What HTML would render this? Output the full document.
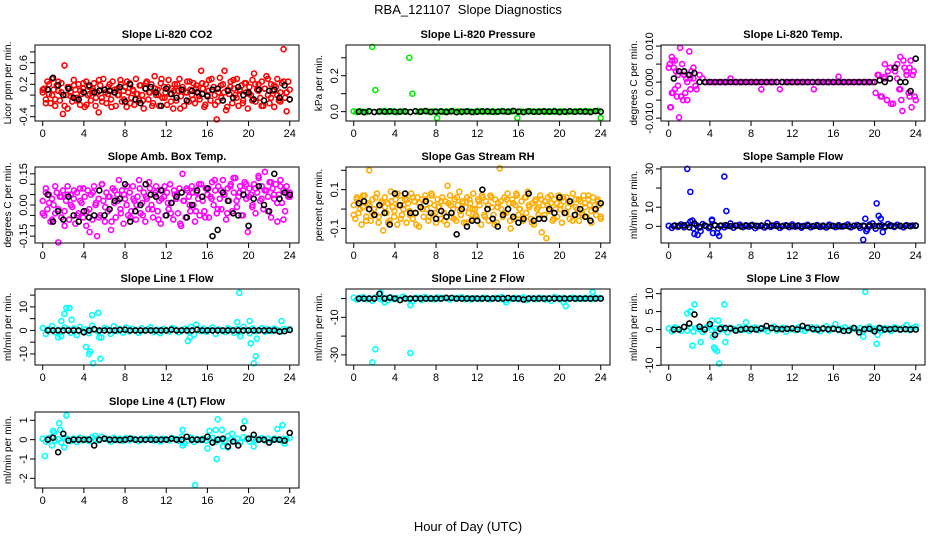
<!DOCTYPE html>
<html><head><meta charset="utf-8"><title>RBA_121107 Slope Diagnostics</title>
<style>
html,body{margin:0;padding:0;background:#fff;}
svg{display:block;font-family:"Liberation Sans",Arial,sans-serif;}
</style></head>
<body>
<svg id="chart" width="936" height="540" viewBox="0 0 936 540" xmlns="http://www.w3.org/2000/svg">
<rect x="0" y="0" width="936" height="540" fill="#fff"/>
<text x="468" y="14" text-anchor="middle" font-size="13">RBA_121107&#160; Slope Diagnostics</text>
<text x="468" y="531" text-anchor="middle" font-size="13">Hour of Day (UTC)</text>
</svg>
<script>
// ---------- shared categories ----------
const xTicks = [0,4,8,12,16,20,24];
const panelTitles = ["Slope Li-820 CO2","Slope Li-820 Pressure","Slope Li-820 Temp.","Slope Amb. Box Temp.","Slope Gas Stream RH","Slope Sample Flow","Slope Line 1 Flow","Slope Line 2 Flow","Slope Line 3 Flow","Slope Line 4 (LT) Flow"];
const yTitles = ["Licor ppm per min.","kPa per min.","degrees C per min.","degrees C per min.","percent per min.","ml/min per min.","ml/min per min.","ml/min per min.","ml/min per min.","ml/min per min."];

// ---------- CO2 ----------
const co2Main = [0.05,0.12,-0.08,0.25,0.02,-0.15,0.3,0.1,-0.2,0.18,0.08,-0.1,0.22,-0.35,0.55,0.0,-0.25,0.15,0.05,-0.12,0.28,0.1,-0.05,0.2,-0.18,0.02,0.12,-0.22,0.25,0.0,0.15,-0.1,0.08,0.22,-0.2,0.05,-0.32,0.18,-0.05,0.3,0.1,-0.15,0.02,0.2,-0.08,0.25,0.05,-0.2,0.12,0.0,0.28,-0.12,0.08,0.15,-0.22,0.05,0.22,-0.05,0.1,-0.18,0.3,0.02,-0.1,0.18,0.0,-0.25,0.12,0.25,-0.08,0.05,0.2,-0.15,0.35,0.0,0.1,-0.2,0.22,-0.05,0.15,0.05,-0.18,0.28,0.02,0.12,-0.25,0.2,-0.1,0.08,0.3,-0.02,0.15,-0.2,0.05,0.25,-0.12,0.1,0.0,0.22,-0.15,0.18,0.05,-0.08,0.45,0.12,-0.22,0.2,0.0,0.28,-0.1,0.1,0.15,-0.18,-0.45,0.05,0.32,-0.05,0.2,0.45,-0.28,0.1,0.02,0.25,-0.15,0.12,0.0,0.3,-0.2,0.08,0.18,-0.1,0.22,0.05,-0.25,0.15,0.0,0.28,0.4,-0.12,0.1,0.2,-0.05,0.25,-0.2,0.12,0.35,0.0,-0.15,0.2,0.08,-0.22,0.15,0.3,-0.1,0.05,0.22,0.85,-0.05,-0.3,0.25,0.1];
const co2Second = [0.1,-0.15,0.2,0.0,-0.08,0.25,0.05,-0.2,0.15,-0.02,0.18,-0.1,0.08,0.22,-0.18,0.02,0.12,-0.05,0.28,-0.12,0.05,0.15,-0.22,0.1,0.0,0.2,-0.08,0.25,-0.15,0.08,0.02,0.18,-0.1,0.22,0.05,-0.2,0.12,0.0,0.3,-0.05,0.15,-0.12,0.08,0.2,-0.25,0.1,0.05,0.25,-0.08,0.12,-0.02,0.22,-0.18,0.08,0.3,0.0,-0.12,0.18,0.05,-0.22,0.15,0.28,-0.05,0.1,-0.15,0.22,0.02,-0.1,0.2,0.08,-0.2,0.12,0.3,-0.05,0.18,0.0,-0.12,0.25,0.05,-0.08];
const co2Black = [0.1,0.32,0.18,0.0,0.12,-0.05,-0.08,0.05,0.18,0.05,0.08,0.1,0.08,0.05,0.15,-0.12,0.2,-0.08,-0.15,0.12,0.15,0.05,-0.2,0.12,0.02,-0.05,0.1,-0.1,0.08,0.05,0.02,-0.02,0.1,0.12,-0.1,0.08,-0.05,0.15,0.0,0.05,-0.08,0.1,-0.1,0.08,0.1,-0.05,0.18,-0.08];

// ---------- Pressure ----------
const presMain = [0.002,-0.003,0.004,0.0,-0.002,0.003,0.36,0.12,-0.001,0.002,0.004,-0.002,0.001,0.003,-0.003,0.0,0.002,-0.001,0.30,0.10,0.003,-0.002,0.001,0.004,0.0,-0.003,0.002,-0.035,0.001,-0.002,0.003,0.0,0.004,-0.001,0.002,-0.003,0.001,0.003,0.0,-0.002,0.004,0.001,-0.001,0.002,0.0,0.003,-0.002,0.001,0.004,-0.001,0.002,0.0,0.003,-0.035,0.001,-0.002,0.002,0.004,0.0,-0.001,0.003,0.001,-0.002,0.002,0.0,0.004,-0.001,0.003,0.001,-0.002,0.002,0.0,0.003,0.001,-0.001,0.004,0.002,0.0,0.003,0.005,-0.035];
const presBlack = [0.0,-0.003,0.002,-0.002,0.001,0.0,0.002,-0.001,0.0,0.001,-0.002,0.002,0.0,0.003,-0.001,0.0,0.001,-0.002,0.002,-0.003,0.0,0.001,-0.002,0.0,0.002,0.001,-0.001,0.0,0.002,-0.001,0.004,0.0,-0.002,0.001,0.0,-0.001,0.002,0.0,0.001,-0.002,0.0,0.002,-0.001,0.001,0.0,-0.002,0.003,0.0];

// ---------- Li-820 Temp ----------
const tempMain = [0.004,-0.003,0.006,0.002,-0.004,0.003,-0.005,0.001,0.004,-0.002,0.002,0.001,0.0,0,0,0,0,0,0,0,0.001,0,0,0,0,0,0,0,0,0,-0.002,0,0,0,0,0,-0.002,0,0,0,0,0,0,0,0,0,0,-0.002,0,0,0,0,0,0,0,0.0015,0,0,0,0,0,0,0,0,0,0,0,-0.003,0.002,-0.004,0.005,0.003,-0.006,0.004,0.001,-0.002,0.006,0.003,-0.004,0.002,-0.005];
const tempExtraX = [0.1,0.2,0.3,0.4,0.5,0.6,0.7,0.9,1.0,1.1,1.2,1.3,1.4,1.5,1.6,1.7,1.8,2.0,2.1,2.2,2.4,2.6,0.15,0.35,0.8,1.9,20.3,20.6,20.9,21.2,21.5,21.8,22.0,22.2,22.4,22.5,22.7,22.9,23.1,23.3,23.5,23.6,23.8,23.9,21.0,22.6,23.4];
const tempExtraY = [0.005,-0.007,0.007,-0.003,0.004,-0.002,0.003,-0.001,-0.0098,0.0095,-0.004,0.005,-0.005,0.002,-0.003,0.001,0.0,0.0085,-0.002,0.003,0.001,-0.001,-0.007,0.006,-0.004,0.002,0.002,-0.004,0.001,-0.005,0.004,-0.006,0.003,0.005,-0.002,0.007,-0.008,0.004,0.002,-0.003,0.006,-0.007,0.003,-0.004,0.0015,-0.005,0.004];
const tempBlack = [0.001,0.003,0.003,0.002,0.0025,0,0,0,0,0,0,0,0,0,0,0,0,0,0,0,0,0,0,0,0,0,0,0,0,0,0,0,0,0,0,0,0,0,0,0,0.0005,0.0,0.001,0.004,0.0,0.0,-0.0025,0.0065];

// ---------- Amb Box Temp ----------
const ambMain = [0.02,-0.05,0.08,-0.02,0.05,-0.08,0.03,0.0,-0.04,0.06,-0.18,0.04,-0.06,0.07,-0.03,0.02,0.09,-0.07,0.05,-0.01,0.03,-0.09,0.06,-0.04,0.08,0.01,-0.06,0.04,-0.1,0.07,-0.02,0.05,-0.07,0.09,0.0,-0.15,0.03,-0.05,0.1,0.02,-0.08,0.06,-0.03,0.04,-0.12,0.08,0.01,-0.06,0.05,0.12,-0.02,0.07,-0.09,0.03,0.0,-0.05,0.06,-0.03,0.09,0.02,-0.07,0.04,0.12,-0.04,0.01,0.06,-0.08,0.03,-0.02,0.08,0.0,-0.06,0.05,0.09,-0.03,0.02,-0.09,0.07,0.04,-0.05,0.06,-0.02,0.1,0.01,-0.07,0.05,0.03,-0.04,0.08,-0.1,0.15,0.02,-0.06,0.07,0.04,-0.03,0.09,0.0,-0.08,0.06,0.03,-0.05,0.1,0.02,-0.03,0.08,0.05,-0.06,0.04,0.11,0.0,0.07,-0.04,0.09,0.03,-0.02,0.12,0.05,-0.07,0.08,0.02,0.1,-0.03,0.06,0.13,-0.01,0.04,0.09,-0.05,0.07,0.11,0.03,-0.13,0.08,0.05,0.0,0.1,-0.04,0.06,0.13,0.02,0.09,-0.02,0.16,0.07,0.04,0.11,-0.06,0.08,0.03,0.1,-0.08,0.05,0.12,0.01,0.07,-0.03,0.09,0.04,0.06];
const ambSecond = [-0.04,0.06,0.01,-0.07,0.09,-0.02,0.04,-0.1,0.05,0.0,0.07,-0.05,0.02,0.08,-0.03,-0.13,0.06,0.01,-0.06,0.1,-0.01,0.04,-0.08,0.07,0.02,-0.04,0.05,0.09,-0.06,0.03,0.0,0.08,-0.05,0.04,0.11,-0.02,0.06,-0.07,0.03,0.09,0.01,-0.04,0.07,0.05,-0.09,0.02,0.08,0.0,0.06,-0.03,0.1,0.04,-0.06,0.08,0.03,0.12,-0.02,0.07,0.05,-0.04,0.09,0.13,0.02,0.06,-0.05,0.1,0.04,-0.01,0.08,0.14,0.03,0.07,-0.03,0.11,0.05,0.01,0.09,-0.07,0.06,0.04];
const ambBlack = [0.05,-0.08,-0.03,-0.07,0.04,-0.05,-0.08,-0.03,-0.06,-0.05,0.07,-0.05,-0.02,0.02,0.03,0.1,-0.08,-0.03,0.0,0.1,0.05,0.04,0.07,-0.05,0.01,0.04,0.06,-0.06,0.0,0.07,0.04,0.08,-0.15,-0.12,0.06,0.02,-0.04,-0.05,0.05,-0.1,0.03,0.09,0.0,-0.03,0.15,0.03,0.06,0.05];

// ---------- Gas Stream RH ----------
const rhMain = [0.02,-0.05,0.06,-0.02,0.04,-0.08,0.01,0.07,-0.04,0.03,0.2,-0.06,0.05,0.0,-0.03,0.08,-0.07,0.02,0.04,-0.11,0.06,-0.02,0.03,-0.06,0.09,0.01,-0.04,0.05,-0.08,0.02,0.07,-0.03,0.0,0.05,-0.07,0.03,-0.01,0.08,-0.05,0.04,-0.02,0.06,-0.09,0.01,0.05,-0.04,0.07,0.0,-0.06,0.03,0.08,-0.03,0.02,-0.07,0.05,0.01,-0.05,0.06,-0.02,0.04,-0.08,0.03,0.07,-0.04,0.0,0.05,-0.06,0.02,0.09,-0.03,0.04,-0.07,0.01,0.06,-0.02,0.03,-0.05,0.08,0.0,-0.04,0.05,0.02,-0.08,0.06,-0.03,0.04,0.0,-0.06,0.07,0.01,-0.03,0.05,-0.07,0.03,0.21,0.0,-0.04,0.06,-0.02,0.08,0.03,-0.1,0.05,-0.05,0.02,0.07,-0.03,0.0,0.04,-0.06,0.06,-0.02,0.09,0.01,-0.05,0.03,-0.08,0.05,0.0,-0.03,0.07,-0.12,0.02,0.04,-0.15,0.06,-0.01,0.03,-0.06,0.05,0.0,-0.04,0.07,0.02,-0.07,0.04,-0.02,0.06,0.01,-0.05,0.03,0.08,-0.03,0.05,0.0,-0.06,0.04,-0.02,0.07,0.01,-0.04,0.05,0.02,-0.07,0.06,0.0,-0.03,0.04,0.02,-0.05];
const rhSecond = [-0.03,0.05,0.0,0.07,-0.06,0.02,-0.02,0.06,-0.04,0.03,0.01,-0.07,0.04,-0.01,0.08,-0.05,0.02,0.05,-0.03,0.06,-0.08,0.03,0.0,0.05,-0.04,0.07,-0.02,0.01,0.04,-0.06,0.12,0.02,-0.05,0.06,-0.01,0.03,-0.07,0.05,0.0,-0.03,0.04,0.07,-0.04,0.02,0.06,-0.08,0.01,0.04,-0.02,0.05,-0.06,0.03,0.08,0.0,-0.04,0.06,0.02,-0.07,0.04,0.01,0.05,-0.03,0.02,0.07,-0.05,0.03,0.0,0.06,-0.02,0.04,-0.06,0.01,0.05,-0.03,0.03,0.07,-0.01,0.02,0.05,-0.04];
const rhBlack = [0.03,0.04,0.0,-0.03,0.02,-0.02,-0.08,0.08,0.02,0.08,-0.02,-0.02,0.01,0.04,-0.02,-0.05,-0.01,-0.04,-0.02,-0.13,0.0,-0.09,-0.06,-0.06,0.1,0.0,-0.05,-0.09,-0.03,0.0,-0.04,-0.07,-0.05,0.08,-0.06,-0.05,-0.05,0.0,-0.02,0.06,-0.02,0.04,-0.03,0.0,-0.04,-0.06,0.0,0.03];

// ---------- Sample Flow ----------
const sampMain = [0.3,-0.8,0.5,-0.3,1.0,-0.5,0.8,2.5,-1.0,0.5,-0.6,1.2,0.2,-0.9,3.5,0.6,-1.0,0.4,-0.5,0.2,1.5,-0.7,0.3,0.9,-0.4,0.6,-0.2,0.8,-0.9,0.1,0.5,-0.6,1.8,-0.3,0.4,1.2,-0.8,0.2,0.6,-0.4,1.0,-0.2,0.5,-0.7,0.3,0.8,-0.5,0.1,0.7,-0.3,0.4,-0.6,0.9,0.2,-0.4,0.6,-0.1,0.3,1.0,-0.5,0.2,0.7,-0.8,0.4,-2.5,0.9,1.5,-1.2,0.3,0.6,-0.4,1.2,0.5,-0.3,0.8,0.1,-0.5,0.6,0.2,0.4,0.3];
const sampExtraX = [1.8,2.1,5.4,5.6,2.5,4.9,4.3,4.2,18.9,19.1,20.2,20.4,20.6,20.8,2.3,3.1,2.8,4.7,19.3];
const sampExtraY = [30,18,26,8,-4,-5,-3.5,3,-7,4,12,5.5,4,-3,3,-2.5,-4.5,-3.5,-1.5];
const sampBlack = [0.2,0.3,0.5,-0.5,1.5,-0.3,0.4,-0.2,0.5,0.3,0.6,0.1,0.4,0.0,0.2,0.5,0.3,0.2,0.1,0.4,0.2,0.0,0.3,0.1,0.2,0.0,0.3,0.1,0.2,0.0,0.1,0.2,0.0,0.1,0.0,0.3,0.2,0.1,0.0,0.2,0.1,0.0,0.2,0.1,0.3,0.2,0.1,0.4];

// ---------- Line 1 ----------
const l1Main = [1.0,-1.5,0.5,1.8,-0.8,0.3,-2.5,1.2,0.6,-1.0,0.8,-2.0,1.5,-0.5,0.4,-1.2,2.0,0.2,-0.6,-3.0,1.0,0.5,-1.5,1.8,-0.3,0.6,-0.9,1.2,-0.4,0.7,0.2,-1.0,0.9,-0.2,0.5,1.3,-0.7,0.3,-1.2,0.6,0.1,-0.5,1.0,0.4,-0.8,0.2,0.7,-0.4,1.5,-1.8,0.5,-0.2,0.8,-0.6,0.3,1.2,-1.5,0.4,0.0,-0.7,0.9,0.2,-1.0,0.6,-2.5,1.5,0.3,-1.2,0.8,-0.4,0.2,1.0,-0.6,0.5,-0.3,0.8,0.1,-0.5,0.6,0.3,0.5];
const l1ExtraX = [2.3,2.6,2.1,1.8,2.8,4.2,4.5,4.6,4.9,4.8,5.4,5.6,19.1,18.9,20.1,20.2,20.5,20.7,20.8,23.2,14.1,14.3,14.9,1.5,5.5];
const l1ExtraY = [9.5,9.5,7,4,4.5,-7,-10,-9,-14,6.5,7.5,-12,16,3.5,4,-5.5,-14,-11,-3.5,4,-4.5,-3,2.5,-3,-3];
const l1Black = [0,0,0,0,0,0,0,-0.8,0,0.5,0,0,0,0,0.2,0.3,0,0,0,0,0,0,0,0,0.3,0,0,0,0,0.3,0,0,0,0,0,0,0,0,0,0,0,0,0,0,0,-0.5,-0.3,0.2];

// ---------- Line 2 ----------
const l2Main = [0.5,-0.6,0.3,0.8,-0.4,0.2,-1.2,0.6,0.3,-0.5,0.4,-1.0,0.7,-0.3,0.2,-0.6,1.0,0.1,-0.3,-1.5,0.5,0.3,-0.8,0.9,-0.2,0.3,-0.5,0.6,-0.2,0.4,0.1,-0.5,0.5,-0.1,0.3,0.7,-0.4,0.2,-0.6,0.3,0.1,-0.3,0.5,0.2,-0.4,0.1,0.4,-0.2,0.8,-0.9,0.3,-0.1,0.4,-0.3,0.2,0.6,-0.8,0.2,0.0,-0.4,0.5,0.1,-0.5,0.3,-1.2,0.8,0.2,-0.6,0.4,-0.2,0.1,0.5,-0.3,0.3,-0.2,0.4,0.1,-0.3,0.3,0.2,0.3];
const l2ExtraX = [2.1,1.8,5.5,2.6,3.0,5.5,14.8,20.6,20.4,23.2];
const l2ExtraY = [-27,-34,-29,3,-2,-3.5,-2,-4,-2,3.5];
const l2Black = [0,0,0,0,2.5,0,0.5,0,-0.8,0,0,0,0,0,0,0,0,0.4,0.3,0,0,0,0,0,0,0,0,0,0,0.3,0,0,-0.5,0,0,0,0,0,0,0,0,0,0,0,0,0,0,0];

// ---------- Line 3 ----------
const l3Main = [0.3,-0.5,0.6,0.2,-0.4,0.8,-0.3,0.5,-0.6,0.4,0.1,-0.7,0.5,0.9,-0.2,0.3,-0.5,0.6,0.0,-0.8,0.4,0.2,-0.3,0.7,-0.1,0.5,-0.4,0.3,0.6,-0.2,0.4,0.1,-0.5,0.3,0.8,-0.3,0.2,0.5,-0.6,0.1,0.4,-0.2,0.6,0.0,-0.4,0.3,0.7,-0.1,0.5,-0.5,0.2,0.9,-0.3,0.4,1.5,-0.2,0.3,0.6,-0.4,0.2,0.5,-0.1,0.4,-0.6,0.3,0.8,-0.2,0.1,0.5,-0.3,0.4,0.2,-0.4,0.6,0.3,-0.1,0.5,1.2,-0.2,0.4,0.8];
const l3ExtraX = [2.5,5.4,1.8,2.1,2.3,3.1,4.2,4.3,4.4,4.5,4.7,4.9,4.8,5.5,19.1,18.9,20.2,20.3,7.5];
const l3ExtraY = [7,7,4.5,5,-4.5,-3.5,2.5,-2,-5,-5.5,-6,-9.5,2.5,-3.5,10.5,-2,-4,-1.5,2];
const l3Black = [0.0,0.0,0.7,1.7,4.2,0.8,0.0,1.5,-1.5,0.2,0.4,0.3,-0.3,0.0,0.2,0.1,0.0,0.3,1.0,0.4,0.2,0.1,0.2,0.3,0.0,1.0,0.5,0.2,0.0,0.3,0.1,0.2,0.0,-0.4,-0.3,0.4,-0.8,0.1,0.2,-0.5,0.4,0.0,0.1,0.2,0.0,0.1,0.0,0.0];

// ---------- Line 4 ----------
const l4Main = [0.05,-0.1,0.08,0.12,-0.05,0.03,-0.15,0.1,0.05,-0.08,0.06,-0.12,0.1,-0.04,0.03,-0.08,0.12,0.02,-0.05,0.15,0.05,0.04,-0.1,0.1,-0.02,0.05,-0.06,0.08,-0.03,0.05,0.02,-0.08,0.06,-0.02,0.04,0.1,-0.05,0.03,-0.1,0.05,0.01,-0.04,0.08,0.03,-0.06,0.15,-0.2,-0.03,0.1,-0.12,0.04,-0.02,0.06,-0.05,0.03,0.1,-0.12,0.04,0.0,-0.06,0.2,0.02,-0.08,0.05,-0.15,0.12,0.03,-0.1,0.06,-0.03,0.02,0.08,-0.05,0.04,-0.02,0.06,0.01,-0.04,0.05,0.03,0.1];
const l4ExtraX = [0.2,1.0,1.1,0.9,1.6,1.7,2.3,2.1,5.1,13.6,13.6,14.8,16.0,16.2,16.8,17.0,16.9,17.4,17.5,19.6,18.4,18.0,20.5,22.8,23.3,23.5];
const l4ExtraY = [-0.85,0.45,0.35,-0.3,0.85,0.5,1.25,-0.4,0.2,0.5,-0.3,-2.35,-0.45,0.45,0.5,1.05,-1.0,0.5,-0.35,0.95,0.3,-0.4,-0.35,0.55,0.75,-0.2];
const l4Black = [0.0,0.1,-0.65,0.3,-0.05,0.0,0.0,0.0,0.0,-0.3,0.0,0.05,0.0,0.0,-0.02,0.0,0.05,0.0,0.0,0.0,0.0,0.0,0.0,0.0,0.05,0.0,0.0,0.15,0.0,0.0,0.0,0.15,-0.15,0.0,0.05,-0.35,-0.1,-0.3,0.6,0.05,0.25,0.0,0.0,-0.15,0.0,0.0,-0.05,0.35];

// ---------- layout (not data) ----------
const COLS=[35,346,661], ROWS=[45,167,289,412], PW=264, PH=76;
const XDOM=[-0.75,24.9];
const panels = [
 {col:0,row:0,ylim:[-0.48,0.928],ticks:[-0.4,-0.2,0,0.2,0.4,0.6,0.8],labs:["-0.4","","","0.2","","0.6",""],color:"#ff0000",main:[co2Main,co2Second],ex:null,black:co2Black},
 {col:1,row:0,ylim:[-0.052,0.371],ticks:[0,0.1,0.2,0.3],labs:["0.0","","0.2",""],color:"#00ee00",main:[presMain],ex:null,black:presBlack},
 {col:2,row:0,ylim:[-0.0108,0.0103],ticks:[-0.01,-0.005,0,0.005,0.01],labs:["-0.010","","0.000","","0.010"],color:"#ff00ff",main:[tempMain],ex:[tempExtraX,tempExtraY],black:tempBlack},
 {col:0,row:1,ylim:[-0.183,0.183],ticks:[-0.15,-0.1,-0.05,0,0.05,0.1,0.15],labs:["-0.15","","","0.00","","","0.15"],color:"#ff00ff",main:[ambMain,ambSecond],ex:null,black:ambBlack},
 {col:1,row:1,ylim:[-0.175,0.217],ticks:[-0.1,0,0.1,0.2],labs:["-0.1","","0.1",""],color:"#ffab00",main:[rhMain,rhSecond],ex:null,black:rhBlack},
 {col:2,row:1,ylim:[-8.7,31],ticks:[0,10,20,30],labs:["0","10","","30"],color:"#0000ff",main:[sampMain],ex:[sampExtraX,sampExtraY],black:sampBlack},
 {col:0,row:2,ylim:[-14.7,17.6],ticks:[-10,-5,0,5,10,15],labs:["-10","","0","","10",""],color:"#00ffff",main:[l1Main],ex:[l1ExtraX,l1ExtraY],black:l1Black},
 {col:1,row:2,ylim:[-35.4,5.1],ticks:[-30,-20,-10,0],labs:["-30","","-10",""],color:"#00ffff",main:[l2Main],ex:[l2ExtraX,l2ExtraY],black:l2Black},
 {col:2,row:2,ylim:[-9.9,11.3],ticks:[-10,-5,0,5,10],labs:["-10","","0","5","10"],color:"#00ffff",main:[l3Main],ex:[l3ExtraX,l3ExtraY],black:l3Black},
 {col:0,row:3,ylim:[-2.5,1.43],ticks:[-2,-1,0,1],labs:["-2","-1","0","1"],color:"#00ffff",main:[l4Main],ex:[l4ExtraX,l4ExtraY],black:l4Black}
];

const NS="http://www.w3.org/2000/svg";
const svg=document.getElementById('chart');
function mk(tag,attrs,parent){const e=document.createElementNS(NS,tag);for(const k in attrs)e.setAttribute(k,attrs[k]);parent.appendChild(e);return e;}

panels.forEach((p,pi)=>{
  const L=COLS[p.col], T=ROWS[p.row];
  const xs=v=>L+(v-XDOM[0])/(XDOM[1]-XDOM[0])*PW;
  const ys=v=>T+PH-(v-p.ylim[0])/(p.ylim[1]-p.ylim[0])*PH;
  const g=mk('g',{},svg);
  
  
  const clip=mk('clipPath',{id:'c'+pi},g);
  mk('rect',{x:L-3,y:T-3,width:PW+6,height:PH+6},clip);
  const tt=mk('text',{x:L+PW/2,y:T-7,'text-anchor':'middle','font-size':'11','font-weight':'bold'},g);
  tt.textContent=panelTitles[pi];
  
  
  const yt=mk('text',{x:0,y:0,'text-anchor':'middle','font-size':'10',transform:`translate(${L-24},${T+PH/2}) rotate(-90)`},g);
  yt.textContent=yTitles[pi];
  
  
  const pts=mk('g',{'clip-path':`url(#c${pi})`,fill:'none','stroke-width':'1.6'},g);
  
  
  p.main.forEach(arr=>{
    arr.forEach((v,i)=>{
      const h=i*24/(arr.length-1);
      const c=mk('circle',{cx:xs(h),cy:ys(v),r:2.5,stroke:p.color},pts);
      
      
    });
  });
  if(p.ex){
    p.ex[0].forEach((h,i)=>{
      const c=mk('circle',{cx:xs(h),cy:ys(p.ex[1][i]),r:2.5,stroke:p.color},pts);
      
      
    });
  }
  p.black.forEach((v,i)=>{
    const h=(i+1)*0.5;
    const c=mk('circle',{cx:xs(h),cy:ys(v),r:2.5,stroke:'#000'},pts);
    
    
  });
  const bx=mk('rect',{x:L,y:T,width:PW,height:PH,fill:'none',stroke:'#000','stroke-width':'1'},g);
  
  
  xTicks.forEach(t=>{
    const x=xs(t);
    mk('line',{x1:x,x2:x,y1:T+PH,y2:T+PH+5,stroke:'#000'},g);
    const tl=mk('text',{x:x,y:T+PH+16,'text-anchor':'middle','font-size':'11'},g);
    tl.textContent=t;
    
    
  });
  p.ticks.forEach((t,i)=>{
    const y=ys(t);
    mk('line',{x1:L-5,x2:L,y1:y,y2:y,stroke:'#000'},g);
    if(p.labs[i]){
      const tl=mk('text',{x:0,y:0,'text-anchor':'middle','font-size':'11',transform:`translate(${L-8},${y}) rotate(-90)`},g);
      tl.textContent=p.labs[i];
      
      
    }
  });
});
</script>
</body></html>
